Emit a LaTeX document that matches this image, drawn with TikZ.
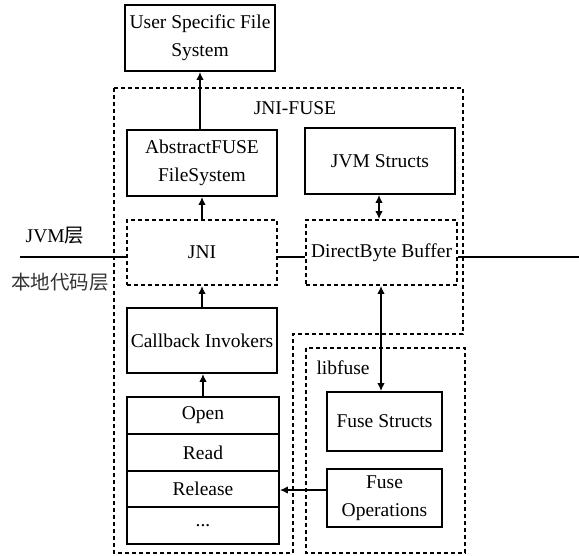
\documentclass[tikz,border=0pt]{standalone}
\usepackage{fontspec}
\setmainfont{Liberation Serif}
\newfontfamily\cjk{Noto Sans CJK SC}
\usetikzlibrary{arrows.meta}
\begin{document}
\begin{tikzpicture}[x=1pt,y=-1pt,
  every node/.style={font=\fontsize{19.5}{28}\selectfont},
  solidbox/.style={draw, line width=1.7pt, rectangle, inner sep=0pt, align=center},
  dashbox/.style={draw, line width=1.7pt, dash pattern=on 4pt off 3pt, rectangle, inner sep=0pt, align=center},
  dashline/.style={line width=1.7pt, dash pattern=on 4pt off 3pt},
  arr/.style={line width=1.7pt, -{Latex[length=8pt,width=7.5pt]}},
  darr/.style={line width=1.7pt, {Latex[length=8pt,width=7.5pt]}-{Latex[length=8pt,width=7.5pt]}},
  plain/.style={line width=1.5pt}
]
\useasboundingbox (0,0) rectangle (579,555);
% outer JNI-FUSE region
\draw[dashline] (114,88) -- (463,88) -- (463,334) -- (293,334) -- (293,553) -- (114,553) -- cycle;
\node (jnifuse) at (295,108) {JNI-FUSE};
% libfuse region
\draw[dashline] (306,348) rectangle (465,553);
\node[anchor=west] (libfuse) at (313,368) {libfuse};

\node[solidbox, minimum width=150pt, minimum height=66pt] (user) at (200,38) {User Specific File\\System};
\node[solidbox, minimum width=150pt, minimum height=66pt] (afs) at (202,163) {AbstractFUSE\\FileSystem};
\node[solidbox, minimum width=150pt, minimum height=66pt] (jvms) at (380,161) {JVM Structs};
\node[dashbox, minimum width=150pt, minimum height=65pt] (jni) at (202,252.5) {JNI};
\node[dashbox, minimum width=151pt, minimum height=65pt] (dbb) at (381.5,252.5) {DirectByte Buffer};
\node[solidbox, minimum width=150pt, minimum height=65pt] (cb) at (202,340.5) {Callback Invokers};

\node[solidbox, minimum width=152pt, minimum height=37pt] (open) at (203,415.5) {Open};
\node[solidbox, minimum width=152pt, minimum height=37pt] (read) at (203,452.5) {Read};
\node[solidbox, minimum width=152pt, minimum height=36pt] (rel) at (203,489) {Release};
\node[solidbox, minimum width=152pt, minimum height=37pt] (dots) at (203,525.5) {...};

\node[solidbox, minimum width=115pt, minimum height=59pt] (fs) at (384.5,421.5) {Fuse Structs};
\node[solidbox, minimum width=115pt, minimum height=58pt] (fo) at (384.5,498) {Fuse\\Operations};

% layer labels
\node (jvmlayer) at (55,236) {JVM{\cjk 层}};
\node (native) at (60,282) {\cjk\color{black!80}本地代码层};
\coordinate (lstart) at (20,257);
\coordinate (lend) at (579,257);
\draw[plain] (lstart) -- (jni.west |- lstart);
\draw[plain] (jni.east |- lstart) -- (dbb.west |- lstart);
\draw[plain] (dbb.east |- lstart) -- (lend);

% arrows
\draw[arr] (afs.north -| user.south) -- (user.south);
\draw[arr] (jni.north) -- (afs.south);
\draw[darr] (jvms.south -| 379,0) -- (dbb.north -| 379,0);
\draw[arr] (cb.north) -- (jni.south);
\draw[arr] (open.north) -- (cb.south -| open.north);
\draw[darr] (dbb.south -| 381,0) -- (fs.north -| 381,0);
\draw[arr] (fo.west |- 0,490) -- (rel.east |- 0,490);
\end{tikzpicture}
\end{document}
